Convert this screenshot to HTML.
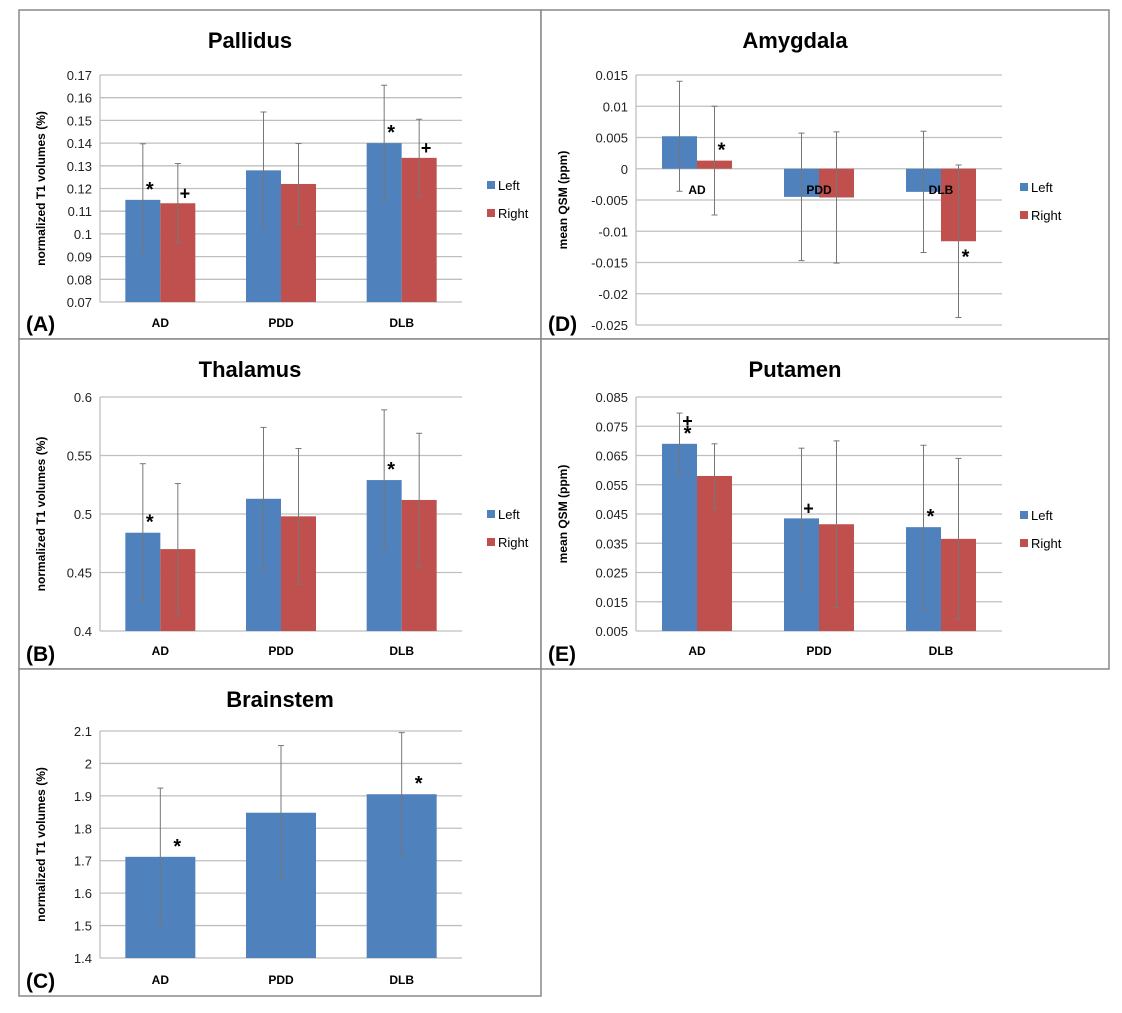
<!DOCTYPE html>
<html><head><meta charset="utf-8"><style>
html,body{margin:0;padding:0;background:#fff;}
svg{display:block;font-family:"Liberation Sans",sans-serif;}
</style></head><body>
<svg id="fig" width="1122" height="1013" viewBox="0 0 1122 1013"></svg>
<script>
const categories = ["AD","PDD","DLB"];
// Pallidus
const pallLeft = [0.115,0.128,0.140];
const pallRight = [0.1135,0.122,0.1335];
const pallLeftErr = [0.0247,0.0257,0.0255];
const pallRightErr = [0.0175,0.0178,0.017];
const pallTicks = ["0.07","0.08","0.09","0.1","0.11","0.12","0.13","0.14","0.15","0.16","0.17"];
// Amygdala
const amyLeft = [0.0052,-0.0045,-0.0037];
const amyRight = [0.0013,-0.0046,-0.0116];
const amyLeftErr = [0.0088,0.0102,0.0097];
const amyRightErr = [0.0087,0.0105,0.0122];
const amyTicks = ["-0.025","-0.02","-0.015","-0.01","-0.005","0","0.005","0.01","0.015"];
// Thalamus
const thalLeft = [0.484,0.513,0.529];
const thalRight = [0.470,0.498,0.512];
const thalLeftErr = [0.059,0.061,0.060];
const thalRightErr = [0.056,0.058,0.057];
const thalTicks = ["0.4","0.45","0.5","0.55","0.6"];
// Putamen
const putLeft = [0.069,0.0435,0.0405];
const putRight = [0.058,0.0415,0.0365];
const putLeftErr = [0.0105,0.024,0.028];
const putRightErr = [0.011,0.0285,0.0275];
const putTicks = ["0.005","0.015","0.025","0.035","0.045","0.055","0.065","0.075","0.085"];
// Brainstem
const bsVals = [1.712,1.848,1.905];
const bsErr = [0.212,0.207,0.19];
const bsTicks = ["1.4","1.5","1.6","1.7","1.8","1.9","2","2.1"];

const NS="http://www.w3.org/2000/svg";
const svg=document.getElementById('fig');
function mk(tag,attrs,parent,text){const e=document.createElementNS(NS,tag);for(const k in attrs)e.setAttribute(k,attrs[k]);if(text!==undefined)e.textContent=text;(parent||svg).appendChild(e);return e;}

function panel(cfg){
  const g=mk('g',{});
  
  
  mk('rect',{x:cfg.px,y:cfg.py,width:cfg.pw,height:cfg.ph,fill:'#fff',stroke:'#888','stroke-width':1.5},g);
  const t=mk('text',{x:cfg.px+cfg.pw/2-(cfg.legend?30:0),y:cfg.py+38,'text-anchor':'middle','font-size':22,'font-weight':'bold'},g,cfg.title);
  
  
  const lo=parseFloat(cfg.ticks[0]),hi=parseFloat(cfg.ticks[cfg.ticks.length-1]);
  const y=v=>cfg.y1-(v-lo)/(hi-lo)*(cfg.y1-cfg.y0);
  cfg.ticks.forEach(tk=>{
    const v=parseFloat(tk),yy=y(v);
    const gl=mk('line',{x1:cfg.x0,x2:cfg.x1,y1:yy,y2:yy,stroke:'#bfbfbf','stroke-width':1.3},g);
    
    
    const tl=mk('text',{x:cfg.x0-8,y:yy+5,'text-anchor':'end','font-size':13,fill:'#222'},g,tk);
    
    
  });
  mk('line',{x1:cfg.x0,x2:cfg.x0,y1:cfg.y0,y2:cfg.y1,stroke:'#bfbfbf','stroke-width':1.3},g);
  const yl=mk('text',{x:0,y:0,'text-anchor':'middle','font-size':12,'font-weight':'bold',transform:`translate(${cfg.px+ (cfg.ylx||26)},${(cfg.y0+cfg.y1)/2}) rotate(-90)`},g,cfg.ylabel);
  
  
  const w=(cfg.x1-cfg.x0)/categories.length;
  const zero=y(Math.max(lo,Math.min(hi,0)));
  const base=lo>0?y(lo):zero;
  categories.forEach((c,i)=>{
    const cx=cfg.x0+w*(i+0.5);
    cfg.series.forEach((s,j)=>{
      const n=cfg.series.length,bw=cfg.bw;
      const bx=cx-n*bw/2+j*bw;
      const v=s.vals[i],vy=y(v);
      const r=mk('rect',{x:bx,y:Math.min(vy,base),width:bw,height:Math.abs(vy-base),fill:s.color},g);
      
      
      const ex=bx+bw/2,e=s.err[i],ya=y(v+e),yb=y(v-e);
      mk('line',{x1:ex,x2:ex,y1:ya,y2:yb,stroke:'#777','stroke-width':1},g);
      mk('line',{x1:ex-3,x2:ex+3,y1:ya,y2:ya,stroke:'#777','stroke-width':1},g);
      mk('line',{x1:ex-3,x2:ex+3,y1:yb,y2:yb,stroke:'#777','stroke-width':1},g);
    });
    const cl=mk('text',{x:cx,y:cfg.catY,'text-anchor':'middle','font-size':12,'font-weight':'bold'},g,c);
    
    
  });
  (cfg.marks||[]).forEach(m=>{
    const n=cfg.series.length,bw=cfg.bw;
    const cx=cfg.x0+w*(m.c+0.5)-n*bw/2+m.s*bw+bw/2+(m.dx||0);
    const s=cfg.series[m.s];const v=s.vals[m.c];
    const yy=m.below?y(v)+(m.dy||20):y(v)-(m.dy||4);
    const mt=mk('text',{x:cx,y:yy,'text-anchor':'middle','font-size':m.t==='*'?20:18,'font-weight':'bold'},g,m.t);
    
    
  });
  if(cfg.legend){
    cfg.series.forEach((s,j)=>{
      const ly=cfg.legY+j*28;
      mk('rect',{x:cfg.legX,y:ly-9,width:8,height:8,fill:s.color},g);
      const lt=mk('text',{x:cfg.legX+11,y:ly,'font-size':13},g,s.label);
      
      
    });
  }
  const pl=mk('text',{x:cfg.px+7,y:cfg.py+cfg.ph-8,'font-size':21,'font-weight':'bold'},g,cfg.letter);
  
  
}
const B='#4f81bd',R='#c0504d';
panel({name:'pallidus',title:'Pallidus',letter:'(A)',px:19,py:10,pw:522,ph:329,x0:100,x1:462,y0:75,y1:302,bw:35,catY:327,
  ticks:pallTicks,ylabel:'normalized T1 volumes (%)',legend:true,legX:487,legY:190,
  series:[{key:'left',label:'Left',color:B,vals:pallLeft,err:pallLeftErr},{key:'right',label:'Right',color:R,vals:pallRight,err:pallRightErr}],
  marks:[{c:0,s:0,t:'*',dx:7},{c:0,s:1,t:'+',dx:7},{c:2,s:0,t:'*',dx:7},{c:2,s:1,t:'+',dx:7}]});
panel({name:'amygdala',title:'Amygdala',letter:'(D)',px:541,py:10,pw:568,ph:329,x0:636,x1:1002,y0:75,y1:325,bw:35,catY:194,
  ticks:amyTicks,ylabel:'mean QSM (ppm)',legend:true,legX:1020,legY:192,
  series:[{key:'left',label:'Left',color:B,vals:amyLeft,err:amyLeftErr},{key:'right',label:'Right',color:R,vals:amyRight,err:amyRightErr}],
  marks:[{c:0,s:1,t:'*',dx:7},{c:2,s:1,t:'*',dx:7,below:true,dy:22}]});
panel({name:'thalamus',title:'Thalamus',letter:'(B)',px:19,py:339,pw:522,ph:330,x0:100,x1:462,y0:397,y1:631,bw:35,catY:655,
  ticks:thalTicks,ylabel:'normalized T1 volumes (%)',legend:true,legX:487,legY:519,
  series:[{key:'left',label:'Left',color:B,vals:thalLeft,err:thalLeftErr},{key:'right',label:'Right',color:R,vals:thalRight,err:thalRightErr}],
  marks:[{c:0,s:0,t:'*',dx:7},{c:2,s:0,t:'*',dx:7}]});
panel({name:'putamen',title:'Putamen',letter:'(E)',px:541,py:339,pw:568,ph:330,x0:636,x1:1002,y0:397,y1:631,bw:35,catY:655,
  ticks:putTicks,ylabel:'mean QSM (ppm)',legend:true,legX:1020,legY:520,
  series:[{key:'left',label:'Left',color:B,vals:putLeft,err:putLeftErr},{key:'right',label:'Right',color:R,vals:putRight,err:putRightErr}],
  marks:[{c:0,s:0,t:'*',dx:8},{c:0,s:0,t:'+',dx:8,dy:17},{c:1,s:0,t:'+',dx:7},{c:2,s:0,t:'*',dx:7}]});
panel({name:'brainstem',title:'Brainstem',letter:'(C)',px:19,py:669,pw:522,ph:327,x0:100,x1:462,y0:731,y1:958,bw:70,catY:984,
  ticks:bsTicks,ylabel:'normalized T1 volumes (%)',legend:false,
  series:[{key:'value',label:'',color:B,vals:bsVals,err:bsErr}],
  marks:[{c:0,s:0,t:'*',dx:17},{c:2,s:0,t:'*',dx:17}]});
</script>
</body></html>
